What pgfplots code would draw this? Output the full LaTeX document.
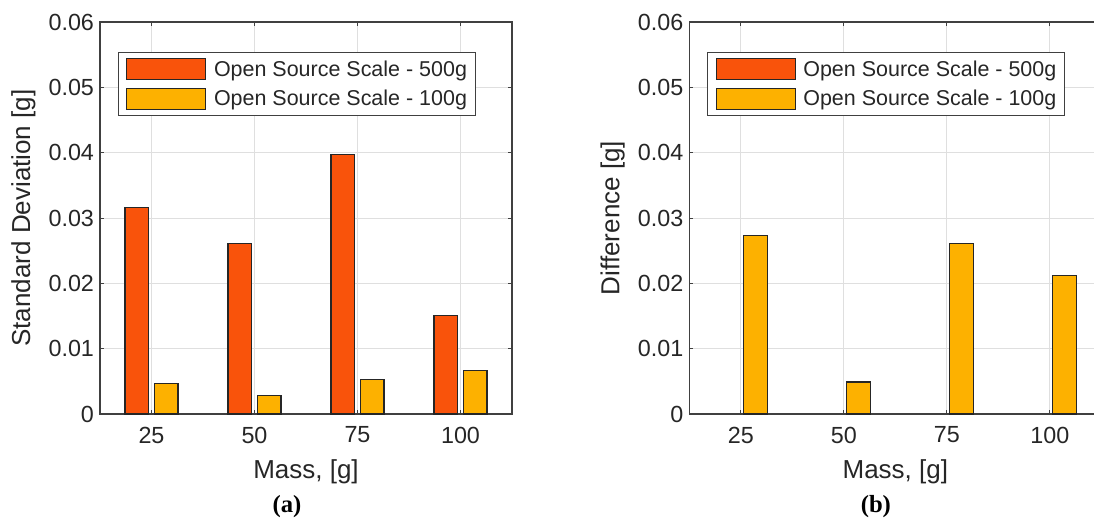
\documentclass[border=0pt]{standalone}
\usepackage{pgfplots}
\pgfplotsset{compat=1.18}
\usepackage{fontspec}
\setmainfont{Liberation Sans}
\newfontfamily\capfont{Liberation Serif}
\definecolor{c500}{HTML}{F9530B}
\definecolor{c100}{HTML}{FDB100}
\definecolor{axgray}{HTML}{404040}
\definecolor{txtgray}{HTML}{262626}
\definecolor{gridgray}{HTML}{DFDFDF}
\pgfplotsset{
  mybox/.style={legend image code/.code={\draw[##1] (0pt,-7.875pt) rectangle (59.25pt,7.875pt);}},
  myaxis/.style={
    scale only axis, width=309pt, height=294pt, anchor=south west,
    xmin=0.5, xmax=4.5, ymin=0, ymax=0.06,
    xtick={1,2,3,4}, xticklabels={25,50,75,100},
    ytick={0,0.01,0.02,0.03,0.04,0.05,0.06},
    yticklabels={0,0.01,0.02,0.03,0.04,0.05,0.06},
    scaled y ticks=false,
    grid=major, major grid style={gridgray, line width=0.75pt},
    axis line style={axgray, line width=0.9pt},
    tick style={axgray, line width=0.75pt}, major tick length=3pt,
    tick align=inside, xtick pos=both, ytick pos=both,
    ticklabel style={font=\fontsize{17.5}{20}\selectfont, text=txtgray},
    xticklabel style={yshift=-6pt},
    yticklabel style={xshift=-1pt},
    label style={font=\fontsize{19.5}{22}\selectfont, text=txtgray},
    xlabel style={at={(axis description cs:0.5,-0.147)}, anchor=center},
    ylabel style={at={(axis description cs:-0.186,0.5)}, anchor=center},
    legend style={at={(axis description cs:0.043,0.924)}, anchor=north west,
      draw=axgray, line width=0.75pt, fill=white,
      font=\fontsize{16.1}{18}\selectfont, text=txtgray,
      inner xsep=6pt, inner ysep=4.5pt, row sep=5.5pt, column sep=5.8pt,
      nodes={inner sep=0pt}},
    legend cell align=left,
  },
  barA/.style={ybar, bar width=0.229, bar shift=-0.143, fill=c500, draw=black!85, line width=0.8pt, mybox},
  barB/.style={ybar, bar width=0.229, bar shift=0.143, fill=c100, draw=black!85, line width=0.8pt, mybox},
}
\begin{document}
\begin{tikzpicture}
\useasboundingbox (0pt,0pt) rectangle (820.5pt,390.75pt);
\begin{axis}[myaxis, at={(75pt,80.25pt)}, xlabel={Mass, [g]}, ylabel={Standard Deviation [g]}]
\addplot[barA] coordinates {(1,0.0316) (2,0.0261) (3,0.0397) (4,0.0151)};
\addlegendentry{Open Source Scale - 500g}
\addplot[barB] coordinates {(1,0.0047) (2,0.0029) (3,0.0053) (4,0.0067)};
\addlegendentry{Open Source Scale - 100g}
\end{axis}
\begin{axis}[myaxis, at={(517pt,80.25pt)}, xlabel={Mass, [g]}, ylabel={Difference [g]}]
\addlegendimage{fill=c500, draw=black!85, line width=0.8pt, mybox}
\addlegendentry{Open Source Scale - 500g}
\addplot[barB] coordinates {(1,0.0273) (2,0.0049) (3,0.0261) (4,0.0212)};
\addlegendentry{Open Source Scale - 100g}
\end{axis}
\node[font=\capfont\bfseries\fontsize{18.5}{20}\selectfont] at (215.25pt,10.5pt) {(a)};
\node[font=\capfont\bfseries\fontsize{18.5}{20}\selectfont] at (656.9pt,10.5pt) {(b)};
\end{tikzpicture}
\end{document}
